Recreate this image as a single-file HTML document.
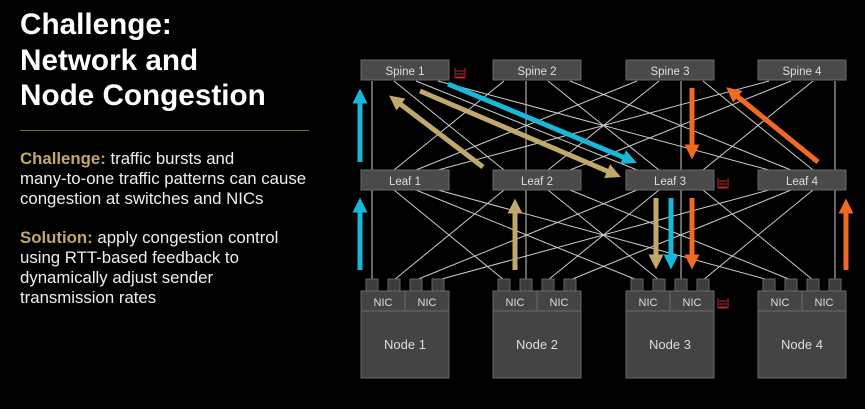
<!DOCTYPE html>
<html><head><style>
body{margin:0;background:#000;width:865px;height:409px;overflow:hidden;font-family:"Liberation Sans",sans-serif}
.t{position:absolute;left:20px;top:7px;color:#fff;font-weight:bold;font-size:29.7px;line-height:35.5px}
.r{position:absolute;left:20px;top:130px;width:289px;height:1px;background:#7a6a45}
.p{position:absolute;left:20px;color:#eee;font-size:16.8px;line-height:20px}
.g{color:#c2a86a;font-weight:bold}
</style></head><body>
<div class="t">Challenge:<br>Network and<br>Node Congestion</div>
<div class="r"></div>
<div class="p" style="top:149px"><span class="g">Challenge:</span> traffic bursts and<br>many-to-one traffic patterns can cause<br>congestion at switches and NICs</div>
<div class="p" style="top:228px"><span class="g">Solution:</span> apply congestion control<br>using RTT-based feedback to<br>dynamically adjust sender<br>transmission rates</div>
<svg width="865" height="409" style="position:absolute;left:0;top:0">
<defs>
<marker id="mc" viewBox="0 0 10 10" refX="5" refY="5" markerWidth="3" markerHeight="3" orient="auto"><path d="M0,0L10,5L0,10z" fill="#18b8d8"/></marker>
<marker id="mt" viewBox="0 0 10 10" refX="5" refY="5" markerWidth="3" markerHeight="3" orient="auto"><path d="M0,0L10,5L0,10z" fill="#c2a86a"/></marker>
<marker id="mo" viewBox="0 0 10 10" refX="5" refY="5" markerWidth="3" markerHeight="3" orient="auto"><path d="M0,0L10,5L0,10z" fill="#f26a21"/></marker>
</defs>
<g id="lines" stroke="#ccc" stroke-width="1"></g>
<g id="boxes"></g>
<g stroke-width="5" fill="none">
<line x1="360" y1="162" x2="360" y2="96" stroke="#18b8d8" marker-end="url(#mc)"/>
<line x1="360" y1="270" x2="360" y2="205" stroke="#18b8d8" marker-end="url(#mc)"/>
<line x1="483" y1="167" x2="395" y2="100" stroke="#c2a86a" marker-end="url(#mt)"/>
<line x1="420" y1="91" x2="614" y2="174" stroke="#c2a86a" marker-end="url(#mt)"/>
<line x1="448" y1="84" x2="630" y2="160" stroke="#18b8d8" marker-end="url(#mc)"/>
<line x1="515" y1="270" x2="515" y2="206" stroke="#c2a86a" marker-end="url(#mt)"/>
<line x1="692" y1="88" x2="692" y2="152" stroke="#f26a21" marker-end="url(#mo)"/>
<line x1="818" y1="162" x2="732" y2="92" stroke="#f26a21" marker-end="url(#mo)"/>
<line x1="656" y1="198" x2="656" y2="262" stroke="#c2a86a" marker-end="url(#mt)"/>
<line x1="671" y1="198" x2="671" y2="262" stroke="#18b8d8" marker-end="url(#mc)"/>
<line x1="692" y1="198" x2="692" y2="262" stroke="#f26a21" marker-end="url(#mo)"/>
<line x1="846" y1="270" x2="846" y2="206" stroke="#f26a21" marker-end="url(#mo)"/>
</g>
<g stroke="#c0282b" fill="none" stroke-width="1">
<path d="M455,68v10h10v-10M456,71h8M456,74h8M456,77h8"/>
<path d="M718,178v10h10v-10M719,181h8M719,184h8M719,187h8"/>
<path d="M718,298v10h10v-10M719,301h8M719,304h8M719,307h8"/>
</g>
</svg>
<script>
var X=[361,493,626,758],ns="http://www.w3.org/2000/svg",L=document.getElementById('lines'),B=document.getElementById('boxes');
function el(t,a,p,tx){var e=document.createElementNS(ns,t);for(var k in a)e.setAttribute(k,a[k]);if(tx)e.textContent=tx;p.appendChild(e);return e;}
function ln(a,b,c,d){el('line',{x1:a,y1:b,x2:c,y2:d},L);}
for(var i=0;i<4;i++)for(var j=0;j<4;j++){
 ln(X[i]+11+22*j,81,X[j]+11+22*i,170);
 ln(X[j]+11+22*i,190,X[i]+11+22*j,280);
}
for(var i=0;i<4;i++){
 var x=X[i];
 el('rect',{x:x,y:60,width:88,height:20,fill:'#4a4a4a',stroke:'#6a6a6a'},B);
 el('text',{x:x+44,y:75,fill:'#ddd','font-size':11.5,'text-anchor':'middle','font-family':'Liberation Sans'},B,'Spine '+(i+1));
 el('rect',{x:x,y:170,width:88,height:20,fill:'#4a4a4a',stroke:'#6a6a6a'},B);
 el('text',{x:x+44,y:185,fill:'#ddd','font-size':11.5,'text-anchor':'middle','font-family':'Liberation Sans'},B,'Leaf '+(i+1));
 for(var k=0;k<4;k++)el('rect',{x:x+5+22*k,y:279,width:12,height:12,fill:'#3c3c3c',stroke:'#666'},B);
 el('rect',{x:x,y:291,width:88,height:87,fill:'#444',stroke:'#6a6a6a'},B);
 el('line',{x1:x,y1:311,x2:x+88,y2:311,stroke:'#6a6a6a'},B);
 el('line',{x1:x+44,y1:291,x2:x+44,y2:311,stroke:'#6a6a6a'},B);
 el('text',{x:x+22,y:306,fill:'#ddd','font-size':11,'text-anchor':'middle','font-family':'Liberation Sans'},B,'NIC');
 el('text',{x:x+66,y:306,fill:'#ddd','font-size':11,'text-anchor':'middle','font-family':'Liberation Sans'},B,'NIC');
 el('text',{x:x+44,y:349,fill:'#ddd','font-size':13,'text-anchor':'middle','font-family':'Liberation Sans'},B,'Node '+(i+1));
}
</script>
</body></html>
